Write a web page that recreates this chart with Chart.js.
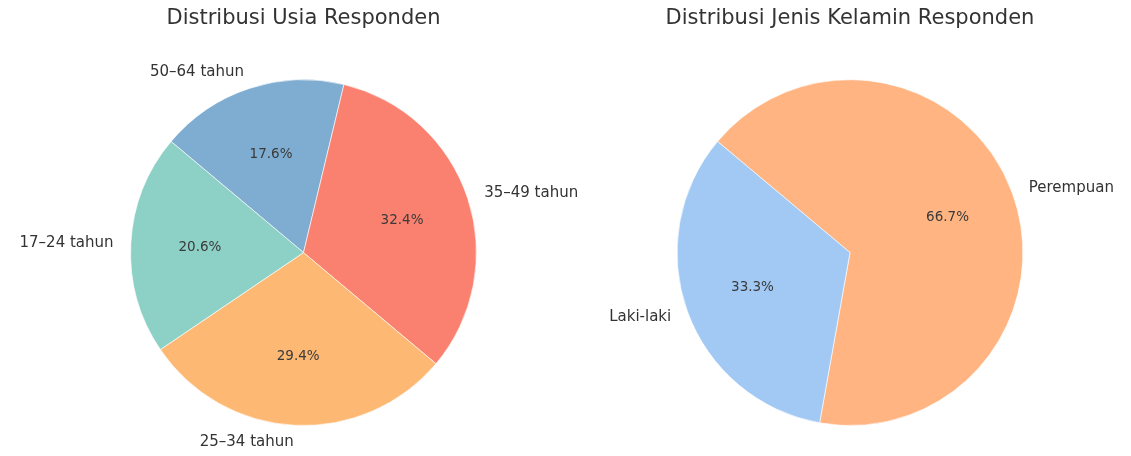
<!DOCTYPE html>
<html lang="id">
<head>
  <meta charset="UTF-8" />
  <title>Distribusi Responden</title>
  <style>
    body { margin: 0; background: #fff; }
    .wrap { position: relative; width: 1131px; height: 456px; }
    .box { position: absolute; top: 0; height: 456px; }
    #boxUsia { left: 0; width: 607px; }
    #boxGender { left: 569px; width: 562px; }
  </style>
</head>
<body>
  <div class="wrap">
    <div class="box" id="boxUsia"><canvas id="usiaChart"></canvas></div>
    <div class="box" id="boxGender"><canvas id="genderChart"></canvas></div>
  </div>

  <script src="https://cdn.jsdelivr.net/npm/chart.js"></script>
  <script>
    // data, in the order of the original (counter-clockwise) pie
    const usiaLabels = ['17–24 tahun', '25–34 tahun', '35–49 tahun', '50–64 tahun'];
    const usiaValues = [7, 10, 11, 6];
    const usiaColors = ['#8dd1c6', '#fdb974', '#fa8070', '#7fadd1'];

    const genderLabels = ['Laki-laki', 'Perempuan'];
    const genderValues = [33.3, 66.7];
    const genderColors = ['#a1c9f4', '#ffb482'];

    const FONT = "'DejaVu Sans', sans-serif";

    // labels outside (1.1 r) and percentages inside (0.6 r), like matplotlib pie
    const pieText = {
      id: 'pieText',
      afterDatasetsDraw(chart) {
        const ctx = chart.ctx;
        const meta = chart.getDatasetMeta(0);
        const values = chart.data.datasets[0].data;
        const total = values.reduce((a, b) => a + b, 0);
        ctx.save();
        meta.data.forEach((arc, i) => {
          const p = arc.getProps(['x', 'y', 'startAngle', 'endAngle', 'outerRadius'], true);
          const mid = (p.startAngle + p.endAngle) / 2;
          const c = Math.cos(mid), s = Math.sin(mid);

          ctx.fillStyle = '#333';
          ctx.font = '15px ' + FONT;
          ctx.textBaseline = 'middle';
          ctx.textAlign = c < 0 ? 'right' : 'left';
          ctx.fillText(chart.data.labels[i], p.x + c * p.outerRadius * 1.1, p.y + s * p.outerRadius * 1.1);

          ctx.fillStyle = '#3a3a3a';
          ctx.font = '13.5px ' + FONT;
          ctx.textAlign = 'center';
          const pct = (values[i] / total * 100).toFixed(1) + '%';
          ctx.fillText(pct, p.x + c * p.outerRadius * 0.6, p.y + s * p.outerRadius * 0.6);
        });
        ctx.restore();
      }
    };

    function makePie(id, title, labels, values, colors) {
      // Chart.js draws clockwise, so reverse to keep the counter-clockwise order
      return new Chart(document.getElementById(id), {
        type: 'pie',
        data: {
          labels: labels.slice().reverse(),
          datasets: [{
            data: values.slice().reverse(),
            backgroundColor: colors.slice().reverse(),
            borderColor: 'rgba(255,255,255,0.6)',
            borderWidth: 1
          }]
        },
        options: {
          responsive: true,
          maintainAspectRatio: false,
          animation: false,
          rotation: -50,
          layout: { padding: { top: 0, bottom: 30, left: 0, right: 0 } },
          plugins: {
            legend: { display: false },
            tooltip: { enabled: false },
            title: {
              display: true,
              text: title,
              color: '#333',
              font: { family: FONT, size: 21, weight: 'normal' },
              padding: { top: 6, bottom: 48 }
            }
          }
        },
        plugins: [pieText]
      });
    }

    makePie('usiaChart', 'Distribusi Usia Responden', usiaLabels, usiaValues, usiaColors);
    makePie('genderChart', 'Distribusi Jenis Kelamin Responden', genderLabels, genderValues, genderColors);
  </script>
</body>
</html>
